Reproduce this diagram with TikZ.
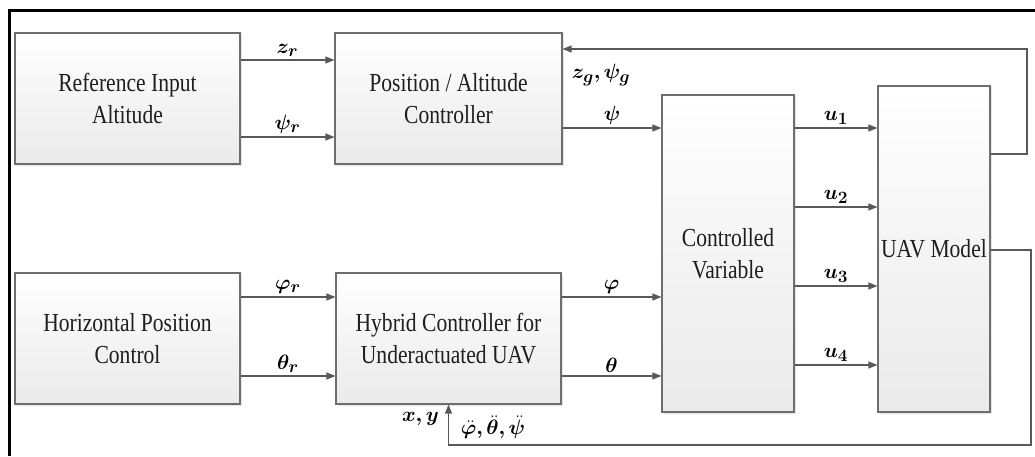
\documentclass[tikz,border=0pt]{standalone}
\usepackage{fontspec}
\usepackage{amsmath,bm}
\usetikzlibrary{arrows.meta,shadows}
\newfontfamily\boxfont[FakeStretch=0.83]{Liberation Serif}
\DeclareMathSizes{22}{22}{17}{13}
\definecolor{linec}{HTML}{595959}
\definecolor{boxedge}{HTML}{6E6E6E}
\definecolor{boxbot}{HTML}{EAEAEA}
\definecolor{txt}{HTML}{1E1E1E}
\begin{document}
\begin{tikzpicture}[x=1pt,y=1pt,
 blk/.style={draw=boxedge, line width=1.1pt, top color=white, bottom color=boxbot,
   drop shadow={shadow xshift=1.5pt, shadow yshift=-1.5pt, opacity=0.2},
   inner sep=0pt, align=center, text=txt, font=\boxfont\fontsize{26}{32}\selectfont},
 arr/.style={draw=linec, line width=1.2pt, -{Triangle[length=9pt,width=7pt]}},
 lab/.style={font=\fontsize{22}{26}\selectfont, inner sep=1pt}]
\useasboundingbox (0,0) rectangle (1035,456);
% frame (top and left only)
\draw[line width=3.5pt] (9.5,0) -- (9.5,445.5) -- (1035,445.5);
% blocks
\node[blk, minimum width=225pt, minimum height=131pt] (ref) at (127.5,357.5) {Reference Input\\Altitude};
\node[blk, minimum width=227pt, minimum height=131pt] (pos) at (448.5,357.5) {Position / Altitude\\Controller};
\node[blk, minimum width=225pt, minimum height=131pt] (hor) at (127.5,117.5) {Horizontal Position\\Control};
\node[blk, minimum width=225pt, minimum height=131pt] (hyb) at (448.5,117.5) {Hybrid Controller for\\Underactuated UAV};
\node[blk, minimum width=132pt, minimum height=317pt] (cv) at (728,202.5) {Controlled\\Variable};
\node[blk, minimum width=112pt, minimum height=326pt] (uav) at (934,207) {UAV Model};
% connectors
\draw[arr] (ref.east |- 0,396) -- node[lab,above=2pt]{$\bm{z_r}$} (pos.west |- 0,396);
\draw[arr] (ref.east |- 0,319) -- node[lab,above=2pt]{$\bm{\psi_r}$} (pos.west |- 0,319);
\draw[arr] (hor.east |- 0,159) -- node[lab,above=2pt]{$\bm{\varphi_r}$} (hyb.west |- 0,159);
\draw[arr] (hor.east |- 0,80) -- node[lab,above=2pt]{$\bm{\theta_r}$} (hyb.west |- 0,80);
\draw[arr] (pos.east |- 0,328) -- node[lab,above=2pt]{$\bm{\psi}$} (cv.west |- 0,328);
\draw[arr] (hyb.east |- 0,159) -- node[lab,above=2pt]{$\bm{\varphi}$} (cv.west |- 0,159);
\draw[arr] (hyb.east |- 0,80) -- node[lab,above=2pt]{$\bm{\theta}$} (cv.west |- 0,80);
\draw[arr] (cv.east |- 0,328) -- node[lab,above=2pt]{$\bm{u_1}$} (uav.west |- 0,328);
\draw[arr] (cv.east |- 0,249) -- node[lab,above=2pt]{$\bm{u_2}$} (uav.west |- 0,249);
\draw[arr] (cv.east |- 0,170) -- node[lab,above=2pt]{$\bm{u_3}$} (uav.west |- 0,170);
\draw[arr] (cv.east |- 0,91) -- node[lab,above=2pt]{$\bm{u_4}$} (uav.west |- 0,91);
% feedback loops
\draw[arr] (uav.east |- 0,302) -| (1027,407) -- (pos.east |- 0,407);
\draw[arr] (uav.east |- 0,206) -| (1031,11) -| (hyb.south);
% feedback labels
\node[lab] (zg) at (601,381) {$\bm{z_g,\psi_g}$};
\node[lab, anchor=east] (xy) at (440,37) {$\bm{x,y}$};
\node[lab] (dd) at (493,29) {$\bm{\ddot{\varphi},\ddot{\theta},\ddot{\psi}}$};
\end{tikzpicture}
\end{document}
